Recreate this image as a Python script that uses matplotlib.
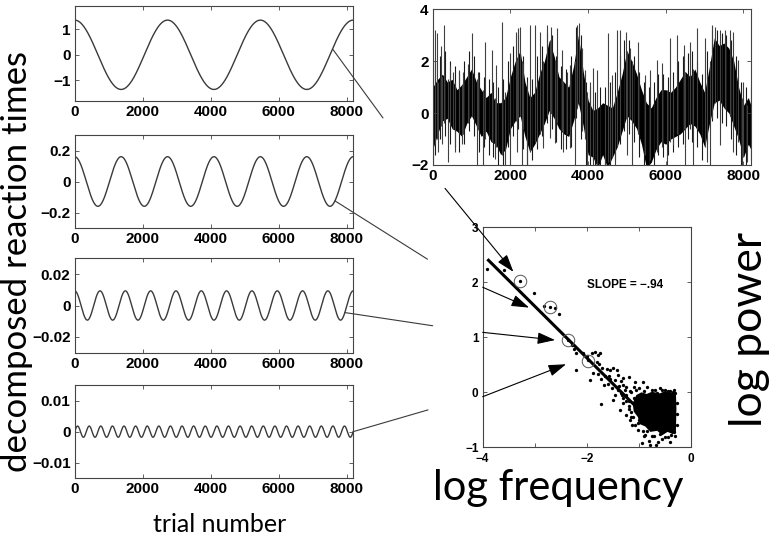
import numpy as np
import matplotlib
matplotlib.use("Agg")
import matplotlib.pyplot as plt
from matplotlib.patches import Polygon

# ---- left column: the four decomposed components ----
n_trials = 8192
wave_cycles = [3, 6, 11, 24]
wave_amps = [1.35, 0.16, 0.0093, 0.0018]
wave_phase_deg = [0, 0, 0, -90]
wave_ylims = [(-1.8, 1.9), (-0.3, 0.3), (-0.03, 0.03), (-0.015, 0.015)]
wave_yticks = [[-1, 0, 1], [-0.2, 0, 0.2], [-0.02, 0, 0.02], [-0.01, 0, 0.01]]
wave_yticklabels = [["\u22121", "0", "1"], ["\u22120.2", "0", "0.2"],
                    ["\u22120.02", "0", "0.02"], ["\u22120.01", "0", "0.01"]]
trial_ticks = [0, 2000, 4000, 6000, 8000]
trial_ticklabels = ["0", "2000", "4000", "6000", "8000"]

# ---- top right: raw reaction time series ----
# dense core of the trace (every 125 trials)
band_t = [0, 125, 250, 375, 500, 625, 750, 875, 1000, 1125, 1250, 1375, 1500, 1625, 1750, 1875, 2000,
          2125, 2250, 2375, 2500, 2625, 2750, 2875, 3000, 3125, 3250, 3375, 3500, 3625, 3750, 3875,
          4000, 4125, 4250, 4375, 4500, 4625, 4750, 4875, 5000, 5125, 5250, 5375, 5500, 5625, 5750,
          5875, 6000, 6125, 6250, 6375, 6500, 6625, 6750, 6875, 7000, 7125, 7250, 7375, 7500, 7625,
          7750, 7875, 8000, 8125, 8192]
band_lo = [-1.4, -0.8, -0.3, -0.2, -0.6, -0.7, -0.9, -0.4, -0.1, -0.5, -0.9, -0.7, -1.1, -1.2, -1.6, -1.4,
           -0.6, -0.3, -0.1, -0.9, -1.5, -1.2, -0.8, -0.4, 0.1, -0.2, -0.6, -0.8, -0.9, -0.3, 0.4, -0.5,
           -1.6, -1.7, -2.1, -1.6, -2.1, -1.7, -1.3, -0.7, -0.1, -0.3, -0.6, -1.2, -2.1, -1.9, -1.4,
           -1.1, -1.2, -1.0, -0.9, -0.8, -0.6, -0.4, -0.5, -0.8, -1.3, -0.4, 0.4, 0.5, 0.2, 0.0,
           -0.5, -1.0, -1.7, -1.2, -1.4]
band_hi = [1.0, 1.3, 1.5, 1.2, 1.3, 0.9, 1.1, 1.4, 1.7, 1.2, 0.9, 0.6, 0.8, 0.4, 0.4, 0.6,
           1.4, 2.0, 2.4, 1.2, 0.6, 0.8, 1.5, 2.0, 2.8, 2.2, 1.4, 1.2, 1.0, 1.8, 3.0, 1.6,
           0.5, 0.1, 0.2, 0.4, 0.3, 0.2, 0.8, 1.5, 2.4, 2.0, 1.5, 0.9, 0.4, 0.2, 0.6,
           0.9, 0.9, 0.8, 1.0, 1.3, 1.6, 1.4, 1.7, 1.2, 0.8, 1.8, 2.9, 2.6, 2.7, 2.5,
           2.0, 1.0, 0.3, 0.6, 0.3]
# full extent of the trace in between the core samples
col_t = [62, 187, 312, 437, 562, 687, 812, 937, 1062, 1187, 1312, 1437, 1562, 1687, 1812, 1937, 2062,
         2187, 2312, 2437, 2562, 2687, 2812, 2937, 3062, 3187, 3312, 3437, 3562, 3687, 3812, 3937,
         4062, 4187, 4312, 4437, 4562, 4687, 4812, 4937, 5062, 5187, 5312, 5437, 5562, 5687, 5812,
         5937, 6062, 6187, 6312, 6437, 6562, 6687, 6812, 6937, 7062, 7187, 7312, 7437, 7562, 7687,
         7812, 7937, 8062, 8187]
col_lo = [-1.6, -1.0, -0.9, -1.2, -1.3, -1.5, -1.2, -0.7, -0.9, -1.5, -1.3, -1.6, -1.7, -2.1, -2.1, -1.3,
          -0.9, -0.6, -1.4, -2.1, -1.8, -1.4, -0.9, -0.4, -0.6, -1.1, -1.4, -1.4, -1.3, -0.2, -1.0, -2.1,
          -2.1, -2.1, -2.1, -2.1, -2.1, -1.8, -1.2, -0.7, -0.8, -1.1, -1.7, -2.1, -2.1, -2.0, -1.6,
          -1.7, -1.6, -1.5, -1.3, -1.2, -1.0, -1.1, -1.3, -1.8, -1.2, -0.3, -0.2, -0.4, -0.5, -1.0,
          -1.6, -2.1, -2.0, -1.8]
col_hi = [2.0, 2.2, 2.4, 2.0, 1.8, 1.6, 2.0, 2.4, 2.2, 1.6, 1.4, 1.3, 1.2, 1.0, 1.3, 2.0,
          2.6, 3.0, 2.2, 1.4, 1.3, 2.2, 2.6, 3.1, 3.0, 2.2, 1.8, 1.7, 2.2, 3.3, 3.0, 1.2,
          1.0, 0.8, 1.0, 1.0, 1.2, 1.6, 2.2, 2.8, 2.8, 2.2, 1.6, 1.2, 1.0, 1.2, 1.5,
          1.5, 1.4, 1.6, 2.0, 2.2, 2.3, 2.4, 2.0, 1.5, 2.4, 3.2, 3.2, 3.1, 3.0, 2.8,
          2.2, 1.2, 1.0, 1.0]
# the long isolated excursions
up_t = [59, 119, 213, 299, 445, 513, 685, 788, 917, 1003, 1174, 1346, 1517, 1629, 1775, 1989, 2144, 2204,
        2247, 2332, 2504, 2633, 2761, 2933, 3036, 3190, 3319, 3448, 3534, 3705, 3765, 3920, 4048, 4135,
        4221, 4521, 4607, 4735, 4821, 4976, 5079, 5293, 5465, 5593, 5765, 5894, 6108, 6297, 6469, 6623,
        6795, 7009, 7181, 7267, 7395, 7524, 7653, 7738, 7867, 7996]
up_top = [3.2, 3.1, 2.6, 3.4, 1.85, 1.6, 1.65, 1.6, 1.9, 3.07, 1.6, 2.75, 2.43, 1.85, 3.52, 2.3, 3.14, 3.27,
          3.33, 1.92, 3.4, 3.4, 3.14, 3.4, 3.33, 3.27, 2.43, 1.6, 1.85, 3.4, 3.46, 1.65, 1.2, 1.73,
          1.66, 3.07, 1.47, 3.2, 3.2, 3.14, 2.5, 2.75, 1.47, 1.66, 2.05, 1.92, 2.88, 3.0, 2.62, 2.75,
          3.27, 2.88, 3.4, 3.33, 3.2, 3.2, 3.2, 3.14, 2.05, 1.21]
up_base = [-1.2, -1.0, -0.5, -0.4, -0.5, -0.6, -0.8, -0.8, -0.4, -0.1, -0.6, -1.0, -1.1, -1.3, -1.6, -0.6,
           -0.3, -0.2, -0.1, -0.6, -1.5, -1.1, -0.8, -0.1, 0.0, -0.4, -0.7, -0.8, -0.7, 0.2, 0.4, -1.0,
           -1.7, -1.8, -1.9, -1.9, -1.7, -1.3, -0.9, -0.2, -0.2, -0.8, -1.6, -1.8, -1.4, -1.3, -1.1,
           -0.8, -0.6, -0.6, -0.6, -1.3, -0.2, 0.4, 0.3, 0.2, -0.1, -0.5, -1.1, -1.7]
down_t = [0, 145, 230, 402, 574, 745, 1131, 1303, 1603, 1861, 1989, 2178, 2290, 2418, 2676, 2847, 3019,
          3148, 3362, 3534, 3662, 3834, 3963, 4134, 4221, 4435, 4564, 4693, 4993, 5122, 5465, 5765,
          6022, 6194, 6494, 6709, 7052, 7138, 7395, 7738, 7953, 8082]
down_bot = [-2.2, -1.5, -1.2, -1.87, -1.5, -1.2, -2.2, -2.2, -1.75, -2.2, -2.2, -1.5, -2.2, -2.2, -1.2,
            -1.35, -0.97, -1.16, -1.5, -1.35, -2.2, -0.7, -2.2, -2.2, -2.2, -2.2, -1.87, -2.2, -1.6,
            -2.2, -1.2, -1.5, -2.2, -1.23, -2.2, -2.2, -1.87, -2.2, -1.23, -1.5, -2.2, -1.87]
down_base = [0.9, 1.2, 1.4, 1.3, 1.2, 1.1, 1.3, 0.9, 0.6, 0.8, 1.4, 2.1, 2.0, 1.2, 1.2, 2.0, 2.8, 2.0,
             1.2, 1.0, 2.0, 2.5, 0.8, 0.4, 0.2, 0.3, 0.4, 0.7, 2.4, 2.0, 0.6, 0.6, 0.9, 1.0, 1.6, 1.7,
             1.5, 2.0, 2.8, 2.0, 0.6, 0.3]

# ---- bottom right: log-log power spectrum ----
pts_x = [-3.91, -3.6, -3.28, -3.01, -2.82, -2.70, -2.61, -2.53, -2.36, -2.29, -2.25, -2.21, -2.20, -2.07,
         -2.0, -1.97, -1.91, -1.84, -1.78, -1.75, -1.81, -1.76, -1.94, -1.88, -1.72, -1.78, -1.72, -1.68,
         -1.65, -1.56, -1.49, -1.43, -1.40, -1.45, -1.52, -1.49, -1.40, -1.20, -1.08, -0.92, -1.30, -1.27,
         -1.33, -1.36, -1.24, -1.17, -1.14, -1.01, -0.95, -0.79, -0.85, -0.69, -0.98, -0.44, -0.63, -0.55,
         -0.35, -0.30, -1.60, -1.55, -1.35, -1.25, -1.15, -1.10, -1.20, -1.05, -0.50, -0.40, -0.60, -1.45,
         -1.20, -1.15, -1.10, -1.05, -1.30, -1.25, -1.12, -1.02, -0.92, -0.88, -0.75, -0.70, -0.30, -0.32,
         -0.90, -0.75, -0.65, -0.55, -0.45, -0.32, -0.27, -0.27, -0.27, -0.38, -0.50, -0.60, -0.72, -0.85,
         -0.90, -1.00, -1.08, -1.15, -1.20, -1.30, -1.35, -1.25, -1.10, -1.00, -0.95, -1.05, -0.40, -0.67,
         -0.80, -1.38, -1.30, -1.18, -1.42, -1.62, -1.58, -1.70]
pts_y = [2.24, 2.23, 2.02, 1.80, 1.57, 1.56, 1.53, 1.42, 0.95, 0.86, 0.78, 0.72, 0.41, 0.71,
         0.66, 0.58, 0.71, 0.74, 0.68, 0.72, 0.56, 0.51, 0.22, 0.35, -0.21, 0.33, 0.25, 0.13,
         0.30, 0.41, 0.44, 0.41, 0.31, 0.22, 0.07, -0.14, 0.05, 0.28, 0.19, 0.19, 0.13, 0.04,
         -0.05, -0.32, -0.41, -0.50, -0.59, -0.69, -0.93, -0.96, 0.10, 0.04, -0.08, -0.81, -0.90, -0.85,
         0.0, -0.80, 0.15, 0.25, 0.20, -0.15, 0.0, -0.10, -0.25, 0.05, 0.05, 0.03, 0.08, -0.05,
         -0.30, -0.35, -0.20, -0.30, -0.20, -0.05, -0.45, -0.55, -0.70, -0.78, -0.80, -0.12, -0.02, -0.72,
         0.02, 0.05, -0.02, 0.04, 0.02, 0.05, -0.20, -0.40, -0.60, -0.78, -0.82, -0.75, -0.80, -0.70,
         -0.80, -0.50, -0.60, -0.45, -0.15, -0.10, -0.02, 0.10, 0.10, 0.08, -0.30, -0.20, -0.90, -0.95,
         -0.88, 0.12, 0.26, 0.02, 0.10, 0.42, 0.30, 0.45]
blob_x = [-1.05, -0.95, -0.85, -0.75, -0.6, -0.5, -0.4, -0.29, -0.28, -0.29, -0.35, -0.45, -0.55, -0.65,
          -0.78, -0.88, -0.98, -1.02, -1.1, -1.12]
blob_y = [-0.05, 0.0, -0.03, 0.01, -0.02, 0.02, -0.01, 0.01, -0.3, -0.72, -0.76, -0.72, -0.78, -0.7,
          -0.72, -0.62, -0.58, -0.45, -0.35, -0.2]
circled_x = [-3.29, -2.70, -2.36, -1.97]
circled_y = [2.02, 1.56, 0.95, 0.57]
fit_x = [-3.91, -1.1]
fit_y = [2.42, -0.22]
slope_label = "SLOPE = \u2212.94"

tick_family = ["Liberation Sans Narrow", "Liberation Sans", "DejaVu Sans"]
label_font = ["Lato", "DejaVu Sans"]
frame_col = "#444444"
W, H = 769, 536


def px_rect(left, top, right, bottom):
    return [left / W, 1 - bottom / H, (right - left) / W, (bottom - top) / H]


def style_axes(ax, size):
    for s in ax.spines.values():
        s.set_color(frame_col)
        s.set_linewidth(0.8)
    ax.tick_params(direction="in", top=True, right=True, length=3, width=0.6, color=frame_col, pad=3)
    for lab in ax.get_xticklabels() + ax.get_yticklabels():
        lab.set_fontsize(size)
        lab.set_fontfamily(tick_family)
        lab.set_fontweight("bold")


fig = plt.figure(figsize=(W / 100, H / 100), dpi=100)

wave_rects = [px_rect(74.7, 6, 353.2, 101), px_rect(74.7, 135, 353.2, 228),
              px_rect(74.7, 258.3, 353.2, 352.7), px_rect(74.7, 385, 353.2, 478.3)]
t = np.arange(n_trials + 1)
wave_axes = []
for i in range(4):
    ax = fig.add_axes(wave_rects[i])
    y = wave_amps[i] * np.cos(2 * np.pi * wave_cycles[i] * t / n_trials + np.radians(wave_phase_deg[i]))
    ax.plot(t, y, color="#3a3a3a", lw=1.0)
    ax.set_xlim(0, n_trials)
    ax.set_ylim(*wave_ylims[i])
    ax.set_xticks(trial_ticks)
    ax.set_xticklabels(trial_ticklabels)
    ax.set_yticks(wave_yticks[i])
    ax.set_yticklabels(wave_yticklabels[i])
    style_axes(ax, 11)
    wave_axes.append(ax)

# raw series
ax_rt = fig.add_axes(px_rect(432.7, 9.3, 750.9, 165))
ax_rt.fill_between(band_t, band_lo, band_hi, color="black", lw=0)
ax_rt.vlines(col_t, col_lo, col_hi, color="#1a1a1a", lw=0.8)
ax_rt.vlines(up_t, up_base, up_top, color="#404040", lw=0.8)
ax_rt.vlines(down_t, down_bot, down_base, color="#404040", lw=0.8)
ax_rt.set_xlim(0, n_trials)
ax_rt.set_ylim(-2, 4)
ax_rt.set_xticks(trial_ticks)
ax_rt.set_xticklabels(trial_ticklabels)
ax_rt.set_yticks([-2, 0, 2, 4])
ax_rt.set_yticklabels(["\u22122", "0", "2", "4"])
style_axes(ax_rt, 11)

# spectrum
ax_sp = fig.add_axes(px_rect(482.7, 227.3, 691, 447.3))
ax_sp.add_patch(Polygon(np.column_stack([blob_x, blob_y]), closed=True, color="black", lw=0))
ax_sp.plot(pts_x, pts_y, "o", color="black", ms=2.4, mew=0)
ax_sp.plot(fit_x, fit_y, color="black", lw=2.2, solid_capstyle="butt")
ax_sp.plot(circled_x, circled_y, "o", mfc="none", mec="#555555", ms=9, mew=0.7)
ax_sp.text(-1.27, 1.95, slope_label, ha="center", va="center", fontsize=8.5,
           family=tick_family, weight="bold")
ax_sp.set_xlim(-4, 0)
ax_sp.set_ylim(-1, 3)
ax_sp.set_xticks([-4, -3, -2, -1, 0])
ax_sp.set_xticklabels(["\u22124", "", "\u22122", "", "0"])
ax_sp.set_yticks([-1, 0, 1, 2, 3])
ax_sp.set_yticklabels(["\u22121", "0", "1", "2", "3"])
style_axes(ax_sp, 8.5)
ax_sp.tick_params(axis="x", pad=4)
ax_sp.tick_params(axis="y", pad=3)

# connector lines: each starts on a component curve, ends left of the spectrum
line_props = dict(arrowstyle="-", color="#3a3a3a", lw=0.8, shrinkA=0, shrinkB=0)
conn_start = [(7600, 0.2), (7656, -0.125), (7950, -0.0045), (8192, 0.0)]
conn_end = [(9068, -2.46), (-5.06, 2.42), (-4.96, 1.21), (-5.05, -0.32)]
wave_axes[0].annotate("", xy=conn_end[0], xycoords="data", xytext=conn_start[0], textcoords="data",
                      arrowprops=line_props, annotation_clip=False)
for i in range(1, 4):
    ax_sp.annotate("", xy=conn_end[i], xycoords="data", xytext=conn_start[i],
                   textcoords=wave_axes[i].transData, arrowprops=line_props, annotation_clip=False)

arrow_props = dict(arrowstyle="-|>,head_length=0.9,head_width=0.3", mutation_scale=12,
                   color="black", lw=0.8, shrinkA=0, shrinkB=0)
ax_sp.annotate("", xy=(-3.41, 2.19), xycoords="data", xytext=(317, -2.9), textcoords=ax_rt.transData,
               arrowprops=arrow_props, annotation_clip=False)
arrow_start = [(-4, 1.91), (-4, 1.09), (-4, -0.08)]
arrow_tip = [(-3.11, 1.54), (-2.61, 0.95), (-2.40, 0.51)]
for a, b in zip(arrow_start, arrow_tip):
    ax_sp.annotate("", xy=b, xytext=a, xycoords="data", arrowprops=arrow_props, annotation_clip=False)

# big axis titles
fig.text(17 / W, 1 - 261 / H, "decomposed reaction times", rotation=90, ha="center", va="center",
         fontsize=25, family=label_font)
fig.text(220 / W, 1 - 532 / H, "trial number", ha="center", va="baseline", fontsize=18, family=label_font)
fig.text(558 / W, 1 - 500 / H, "log frequency", ha="center", va="baseline", fontsize=30, family=label_font)
fig.text(750 / W, 1 - 329 / H, "log power", rotation=90, ha="center", va="center", fontsize=32,
         family=label_font)

fig.savefig("out.png", dpi=100)
